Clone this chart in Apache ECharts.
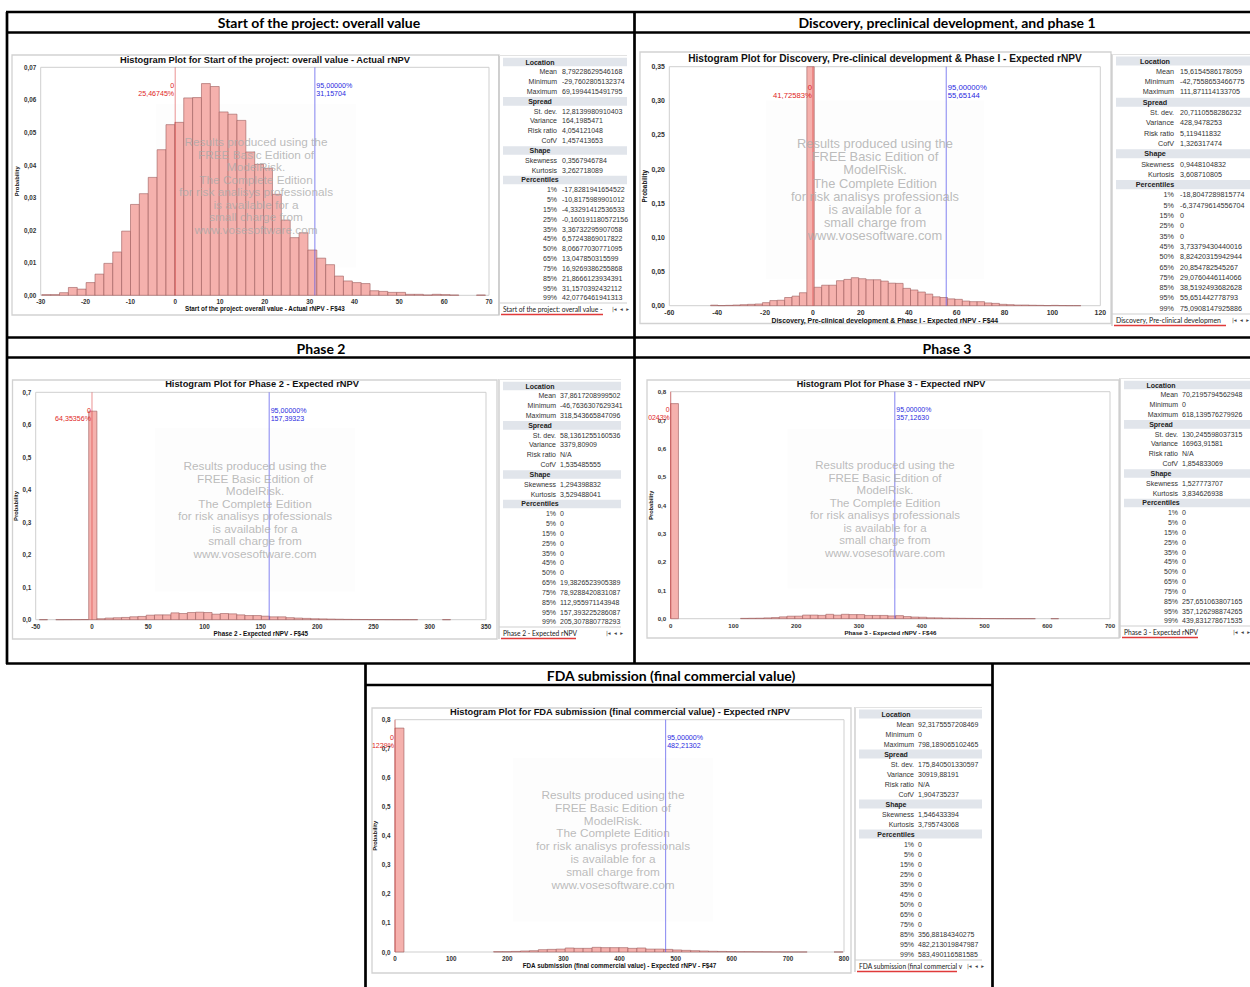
<!DOCTYPE html>
<html>
<head>
<meta charset="utf-8">
<script src="https://cdn.jsdelivr.net/npm/echarts@6/dist/echarts.min.js"></script>
<style>
html, body { margin: 0; padding: 0; background: #fff; }
#main { width: 1250px; height: 987px; }
</style>
</head>
<body>
<div id="main"></div>
<script>
// ---------- texts ----------
const headerTitles = [
  'Start of the project: overall value',
  'Discovery, preclinical development, and phase 1',
  'Phase 2',
  'Phase 3',
  'FDA submission (final commercial value)'
];
const chartTitles = [
  'Histogram Plot for Start of the project: overall value - Actual rNPV',
  'Histogram Plot for Discovery, Pre-clinical development & Phase I - Expected rNPV',
  'Histogram Plot for Phase 2 - Expected rNPV',
  'Histogram Plot for Phase 3 - Expected rNPV',
  'Histogram Plot for FDA submission (final commercial value) - Expected rNPV'
];
const xAxisNames = [
  'Start of the project: overall value - Actual rNPV - F$43',
  'Discovery, Pre-clinical development & Phase I - Expected rNPV - F$44',
  'Phase 2 - Expected rNPV - F$45',
  'Phase 3 - Expected rNPV - F$46',
  'FDA submission (final commercial value) - Expected rNPV - F$47'
];
const tabNames = [
  'Start of the project: overall value - ',
  'Discovery, Pre-clinical developmen',
  'Phase 2 - Expected rNPV',
  'Phase 3 - Expected rNPV',
  'FDA submission (final commercial v'
];
const watermarkLines = [
  'Results produced using the', 'FREE Basic Edition of', 'ModelRisk.',
  'The Complete Edition', 'for risk analisys professionals',
  'is available for a', 'small charge from', 'www.vosesoftware.com'
];

// ---------- axis scales: [min, max, interval] ----------
const xScales = [[-30, 70, 10], [-60, 120, 20], [-50, 350, 50], [0, 700, 100], [0, 800, 100]];
const yScales = [[0.07, 0.01, 2], [0.35, 0.05, 2], [0.7, 0.1, 1], [0.8, 0.1, 1], [0.8, 0.1, 1]];

// ---------- summary statistics: Mean, Minimum, Maximum, St. dev., Variance, Risk ratio, CofV, Skewness, Kurtosis ----------
const startStats = [8.79228629546168, -29.7602805132374, 69.1994415491795, 12.8139980910403, 164.1985471, 4.054121048, 1.457413653, 0.3567946784, 3.262718089];
const discoveryStats = [15.6154586178059, -42.7558653466775, 111.871114133705, 20.7110558286232, 428.9478253, 5.119411832, 1.326317474, 0.9448104832, 3.608710805];
const phase2Stats = [37.8617208999502, -46.7636307629341, 318.543665847096, 58.1361255160536, 3379.80909, null, 1.535485555, 1.294398832, 3.529488041];
const phase3Stats = [70.2195794562948, 0, 618.139576279926, 130.245598037315, 16963.91581, null, 1.854833069, 1.527773707, 3.834626938];
const fdaStats = [92.3175557208469, 0, 798.189065102465, 175.840501330597, 30919.88191, null, 1.904735237, 1.546433394, 3.795743068];

// ---------- percentiles ----------
const pctLabels = ['1%', '5%', '15%', '25%', '35%', '45%', '50%', '65%', '75%', '85%', '95%', '99%'];
const startPct = [-17.8281941654522, -10.8175989901012, -4.33291412536533, -0.160191180572156, 3.36732295907058, 6.57243869017822, 8.06677030771095, 13.047850315599, 16.9269386255868, 21.8666123934391, 31.1570392432112, 42.0776461941313];
const discoveryPct = [-18.8047289815774, -6.37479614556704, 0, 0, 0, 3.73379430440016, 8.82420315942944, 20.854782545267, 29.0760446114066, 38.5192493682628, 55.651442778793, 75.0908147925886];
const phase2Pct = [0, 0, 0, 0, 0, 0, 0, 19.3826523905389, 78.9288420831087, 112.955971143948, 157.393225286087, 205.307880778293];
const phase3Pct = [0, 0, 0, 0, 0, 0, 0, 0, 0, 257.651063807165, 357.126298874265, 439.831278671535];
const fdaPct = [0, 0, 0, 0, 0, 0, 0, 0, 0, 356.88184340275, 482.213019847987, 583.490116581585];

// ---------- histogram probabilities (50 equal bins from Minimum to Maximum) ----------
const startProb = [0.0002, 0.0002, 0.0008, 0.0024, 0.0019, 0.0039, 0.0065, 0.0098, 0.0133, 0.0197,
  0.0279, 0.0312, 0.0362, 0.0447, 0.0524, 0.0531, 0.0606, 0.0607, 0.0650, 0.0641,
  0.0563, 0.0556, 0.0537, 0.0440, 0.0402, 0.0390, 0.0310, 0.0231, 0.0177, 0.0192,
  0.0139, 0.0114, 0.0094, 0.0059, 0.0044, 0.0039, 0.0036, 0.0014, 0.0012, 0.0009,
  0.0009, 0.0003, 0.0003, 0.0001, 0.0003, 0.0002, 0.0001, 0, 0, 0.0001];
const discoveryProb = [0.0008, 0.0002, 0.0005, 0.0010, 0.0015, 0.0020, 0.0025, 0.0045, 0.0075, 0.0080,
  0.0120, 0.0140, 0.0190, 0.3520, 0.0270, 0.0300, 0.0300, 0.0366, 0.0385, 0.0410,
  0.0395, 0.0380, 0.0380, 0.0360, 0.0330, 0.0327, 0.0254, 0.0230, 0.0200, 0.0170,
  0.0130, 0.0120, 0.0100, 0.0093, 0.0068, 0.0059, 0.0059, 0.0040, 0.0034, 0.0020,
  0.0015, 0.0010, 0.0010, 0.0007, 0.0005, 0.0002, 0.0005, 0.0002, 0.0001, 0.0001];
const phase2Prob = [0.0001, 0, 0.0001, 0.0002, 0.0003, 0.0005, 0.6420, 0.0030, 0.0050, 0.0060,
  0.0070, 0.0090, 0.0100, 0.0139, 0.0149, 0.0149, 0.0211, 0.0190, 0.0221, 0.0231,
  0.0221, 0.0170, 0.0190, 0.0180, 0.0149, 0.0128, 0.0128, 0.0108, 0.0088, 0.0088,
  0.0062, 0.0050, 0.0040, 0.0030, 0.0025, 0.0020, 0.0015, 0.0010, 0.0008, 0.0006,
  0.0004, 0.0003, 0.0002, 0.0001, 0.0001, 0.0001, 0, 0, 0, 0.0001];
const phase3Prob = [0.7580, 0, 0, 0, 0, 0, 0, 0, 0, 0.0012,
  0.0015, 0.0018, 0.0028, 0.0040, 0.0065, 0.0088, 0.0090, 0.0128, 0.0128, 0.0118,
  0.0155, 0.0125, 0.0155, 0.0145, 0.0145, 0.0115, 0.0115, 0.0115, 0.0098, 0.0108,
  0.0075, 0.0058, 0.0052, 0.0032, 0.0030, 0.0022, 0.0018, 0.0014, 0.0011, 0.0009,
  0.0007, 0.0005, 0.0003, 0.0002, 0.0001, 0.0001, 0.0001, 0, 0, 0.0001];
const fdaProb = [0.7712, 0, 0, 0, 0, 0, 0, 0, 0, 0,
  0, 0.0010, 0.0010, 0.0020, 0.0035, 0.0045, 0.0080, 0.0090, 0.0100, 0.0138,
  0.0126, 0.0126, 0.0160, 0.0150, 0.0150, 0.0150, 0.0126, 0.0138, 0.0100, 0.0100,
  0.0090, 0.0070, 0.0057, 0.0045, 0.0035, 0.0025, 0.0020, 0.0015, 0.0010, 0.0010,
  0.0008, 0.0006, 0.0003, 0.0002, 0.0001, 0.0001, 0, 0, 0, 0.0001];

// ---------- marker annotations ----------
const zeroLabels = ['25,46745%', '41,72583%', '64,35356%', '0243%', '1229%'];
const confidenceLevel = 95;

const allStats = [startStats, discoveryStats, phase2Stats, phase3Stats, fdaStats];
const allPct = [startPct, discoveryPct, phase2Pct, phase3Pct, fdaPct];
const allProb = [startProb, discoveryProb, phase2Prob, phase3Prob, fdaProb];

// ---------- page layout ----------
const FONT = '"Liberation Sans", Arial, sans-serif';
const layout = [
  { grid: [40.7, 67.3, 448.3, 228], s: 1.0, title: [265, 60], frame: [12, 55, 499, 315], wm: [256, 142, 12.5], yGap: 22.4,
    tbl: { left: 499, right: 627, y0: 62, rowH: 9.83, labelR: 557, valueL: 562, headC: 540, tabY: 309, ulEnd: 603, navX: 612, fs: 1 } },
  { grid: [669.3, 66.7, 431, 239], s: 1.09, title: [885, 58.3], frame: [640, 52, 1111, 323.5], wm: [875, 143.7, 13.1], yGap: 23,
    tbl: { left: 1112, right: 1250, y0: 61, rowH: 10.3, labelR: 1174, valueL: 1180, headC: 1155, tabY: 320, ulEnd: 1226, navX: 1232, fs: 1.03 } },
  { grid: [35.7, 392.3, 450.3, 227.4], s: 1.0, title: [262, 384.3], frame: [12.5, 380, 497, 639], wm: [255, 466, 12.5], yGap: 18.4,
    tbl: { left: 499, right: 621, y0: 386, rowH: 9.83, labelR: 556, valueL: 560, headC: 540, tabY: 633, ulEnd: 576, navX: 606, fs: 1 } },
  { grid: [670.7, 391.7, 439.3, 227], s: 0.975, title: [891, 383.7], frame: [647, 380, 1119, 638], wm: [885, 465, 12.5], yGap: 18,
    tbl: { left: 1120, right: 1250, y0: 385, rowH: 9.83, labelR: 1178, valueL: 1182, headC: 1161, tabY: 632, ulEnd: 1198, navX: 1233, fs: 1 } },
  { grid: [395, 719.7, 449, 232.3], s: 1.0, title: [620, 711.7], frame: [372, 708, 851, 973], wm: [613, 795, 12.8], yGap: 18.3,
    tbl: { left: 855, right: 982, y0: 714, rowH: 10, labelR: 914, valueL: 918, headC: 896, tabY: 966, ulEnd: 957, navX: 967, fs: 1 } }
];
const headerPos = [[319, 22], [947, 22], [321, 348], [947, 348], [671, 675]];

const fmtNum = v => (v === null ? 'N/A' : String(v).replace('.', ','));

// ---------- series renderers ----------
function renderBar(params, api) {
  const p = api.value(2);
  if (!(p > 0)) return null;
  const a = api.coord([api.value(0), p]);
  const b = api.coord([api.value(1), 0]);
  const cs = params.coordSys;
  const top = Math.max(a[1], cs.y);
  return {
    type: 'rect',
    shape: { x: a[0], y: top, width: b[0] - a[0], height: b[1] - top },
    style: { fill: '#f5b1ad', stroke: '#9c5a5a', lineWidth: 0.6 }
  };
}

function makeMarker(i) {
  const s = layout[i].s;
  const p95 = allPct[i][10];
  return function (params, api) {
    const cs = params.coordSys;
    const x = api.coord([api.value(0), 0])[0];
    const isZero = params.dataIndex === 0;
    const texts = isZero
      ? [fmtNum(api.value(0)), zeroLabels[i]]
      : [confidenceLevel.toFixed(5).replace('.', ',') + '%', p95.toFixed(5).replace('.', ',')];
    const color = isZero ? '#e02626' : '#2a2ae0';
    const children = [{
      type: 'line',
      shape: { x1: x, y1: cs.y, x2: x, y2: cs.y + cs.height },
      style: { stroke: isZero ? 'rgba(215,40,40,0.5)' : 'rgba(80,80,235,0.7)', lineWidth: 1 }
    }];
    texts.forEach((t, j) => {
      children.push({
        type: 'text',
        x: isZero ? x - 1 : x + 1.5,
        y: cs.y + (18.7 + j * 7.9) * s,
        style: { text: t, fill: color, fontSize: 7.1 * s, fontFamily: FONT,
                 align: isZero ? 'right' : 'left', verticalAlign: 'middle' }
      });
    });
    return { type: 'group', children };
  };
}

// ---------- build option ----------
const grids = [], xAxes = [], yAxes = [], series = [], graphics = [];

layout.forEach((lay, i) => {
  const s = lay.s;
  const [gl, gt, gw, gh] = lay.grid;
  grids.push({ left: gl, top: gt, width: gw, height: gh, show: true, borderColor: '#cfcfcf', borderWidth: 1, backgroundColor: '#fff' });
  const [xmin, xmax, xint] = xScales[i];
  xAxes.push({
    type: 'value', gridIndex: i, min: xmin, max: xmax, interval: xint,
    axisLine: { show: false }, axisTick: { show: false }, splitLine: { show: false },
    axisLabel: { fontSize: 6.3 * s, fontWeight: 'bold', color: '#333', margin: 3.5, fontFamily: FONT, formatter: v => String(v) },
    name: xAxisNames[i], nameLocation: 'middle', nameGap: 9.5 * s,
    nameTextStyle: { fontSize: 6.3 * s, fontWeight: 'bold', color: '#111', fontFamily: FONT }
  });
  const [ymax, yint, dec] = yScales[i];
  yAxes.push({
    type: 'value', gridIndex: i, min: 0, max: ymax, interval: yint,
    axisLine: { show: false }, axisTick: { show: false }, splitLine: { show: false },
    axisLabel: { fontSize: 6.3 * s, fontWeight: 'bold', color: '#333', margin: 4.5, fontFamily: FONT,
                 formatter: v => v.toFixed(dec).replace('.', ',') },
    name: 'Probability', nameLocation: 'middle', nameGap: lay.yGap - 3,
    nameTextStyle: { fontSize: 5.8 * s, fontWeight: 'bold', color: '#111', fontFamily: FONT }
  });

  const stats = allStats[i];
  const probs = allProb[i];
  const lo = stats[1], hi = stats[2], w = (hi - lo) / probs.length;
  series.push({
    type: 'custom', xAxisIndex: i, yAxisIndex: i, silent: true, animation: false, z: 2,
    renderItem: renderBar, encode: { x: [0, 1], y: 2 },
    data: probs.map((p, k) => [lo + k * w, lo + (k + 1) * w, p])
  });
  series.push({
    type: 'custom', xAxisIndex: i, yAxisIndex: i, silent: true, animation: false, z: 4,
    renderItem: makeMarker(i), encode: { x: 0, y: 1 },
    data: [[0, 0], [allPct[i][10], 0]]
  });

  // chart image frame
  const [fx0, fy0, fx1, fy1] = lay.frame;
  graphics.push({ type: 'rect', z: 0, silent: true, shape: { x: fx0, y: fy0, width: fx1 - fx0, height: fy1 - fy0 },
    style: { fill: 'none', stroke: '#d2d2d2', lineWidth: 1.3 } });

  // chart title
  graphics.push({ type: 'text', z: 10, silent: true, x: lay.title[0], y: lay.title[1],
    style: { text: chartTitles[i], fontSize: 9.3 * s, fontWeight: 'bold', fontFamily: FONT, fill: '#111', align: 'center', verticalAlign: 'middle' } });

  // watermark
  const [wx, wy, wsp] = lay.wm;
  graphics.push({ type: 'rect', z: 1, silent: true,
    shape: { x: wx - 100 * s, y: wy + 3.5 * wsp - 82 * s, width: 200 * s, height: 164 * s },
    style: { fill: 'rgba(0,0,0,0.008)' } });
  watermarkLines.forEach((t, j) => {
    graphics.push({ type: 'text', z: 60, silent: true, x: wx, y: wy + j * wsp,
      style: { text: t, fontSize: 11.8 * s, fontFamily: FONT, fill: 'rgba(170,170,170,0.8)', align: 'center', verticalAlign: 'middle' } });
  });

  // statistics table
  const t = lay.tbl;
  const tfs = 7 * t.fs;
  graphics.push({ type: 'line', z: 3, silent: true, shape: { x1: t.left, y1: t.y0 - 7, x2: t.left, y2: t.tabY + 6 },
    style: { stroke: '#c4c4c4', lineWidth: 1.2 } });
  graphics.push({ type: 'line', z: 3, silent: true, shape: { x1: t.left, y1: t.y0 - 6.5, x2: t.right, y2: t.y0 - 6.5 },
    style: { stroke: '#e2e2e2', lineWidth: 1 } });
  const rows = [
    ['Location', -1], ['Mean', 0], ['Minimum', 1], ['Maximum', 2],
    ['Spread', -1], ['St. dev.', 3], ['Variance', 4], ['Risk ratio', 5], ['CofV', 6],
    ['Shape', -1], ['Skewness', 7], ['Kurtosis', 8], ['Percentiles', -1]
  ];
  pctLabels.forEach((lbl, k) => rows.push([lbl, 100 + k]));
  rows.forEach((row, r) => {
    const y = t.y0 + r * t.rowH;
    if (row[1] === -1) {
      graphics.push({ type: 'rect', z: 3, silent: true,
        shape: { x: t.left + 4, y: y - t.rowH / 2 + 0.6, width: t.right - t.left - 4, height: t.rowH - 1.2 },
        style: { fill: '#e1e5eb' } });
      graphics.push({ type: 'text', z: 4, silent: true, x: t.headC, y: y,
        style: { text: row[0], fontSize: tfs, fontWeight: 'bold', fontFamily: FONT, fill: '#222', align: 'center', verticalAlign: 'middle' } });
    } else {
      const val = row[1] >= 100 ? allPct[i][row[1] - 100] : stats[row[1]];
      graphics.push({ type: 'text', z: 4, silent: true, x: t.labelR, y: y,
        style: { text: row[0], fontSize: tfs, fontFamily: FONT, fill: '#333', align: 'right', verticalAlign: 'middle' } });
      graphics.push({ type: 'text', z: 4, silent: true, x: t.valueL, y: y,
        style: { text: fmtNum(val), fontSize: tfs, fontFamily: FONT, fill: '#333', align: 'left', verticalAlign: 'middle' } });
    }
  });
  // sheet tab strip
  graphics.push({ type: 'line', z: 3, silent: true, shape: { x1: t.left, y1: t.tabY - 6, x2: t.right, y2: t.tabY - 6 },
    style: { stroke: '#cfcfcf', lineWidth: 1 } });
  graphics.push({ type: 'text', z: 4, silent: true, x: t.left + 4, y: t.tabY,
    style: { text: tabNames[i], fontSize: 6.7 * t.fs, fontFamily: 'Lato, "Open Sans", sans-serif', fill: '#222', align: 'left', verticalAlign: 'middle' } });
  graphics.push({ type: 'line', z: 4, silent: true, shape: { x1: t.left + 2, y1: t.tabY + 5.5, x2: t.ulEnd, y2: t.tabY + 5.5 },
    style: { stroke: '#e03a3a', lineWidth: 1.6 } });
  graphics.push({ type: 'text', z: 4, silent: true, x: t.navX, y: t.tabY,
    style: { text: '|◂  ◂  ▸', fontSize: 5.5, fontFamily: '"DejaVu Sans", sans-serif', fill: '#444', align: 'left', verticalAlign: 'middle' } });
});

// panel borders and section headers
const borderLines = [
  [6, 12, 1250, 12], [6, 32.5, 1250, 32.5], [7, 12, 7, 664], [634.5, 12, 634.5, 664],
  [6, 337.5, 1250, 337.5], [6, 357.5, 1250, 357.5], [6, 663.5, 1250, 663.5],
  [365.5, 663, 365.5, 987], [992.5, 663, 992.5, 987], [365, 685, 993, 685]
];
borderLines.forEach(([x1, y1, x2, y2]) => {
  graphics.push({ type: 'line', z: 20, silent: true, shape: { x1, y1, x2, y2 }, style: { stroke: '#000', lineWidth: 2.7 } });
});
headerTitles.forEach((t, i) => {
  graphics.push({ type: 'text', z: 20, silent: true, x: headerPos[i][0], y: headerPos[i][1],
    style: { text: t, fontSize: 14, fontWeight: 'bold', fontFamily: 'Lato, "Open Sans", sans-serif', fill: '#000', align: 'center', verticalAlign: 'middle' } });
});

const chart = echarts.init(document.getElementById('main'), null, { renderer: 'svg', width: 1250, height: 987 });
chart.setOption({
  animation: false,
  backgroundColor: '#fff',
  grid: grids,
  xAxis: xAxes,
  yAxis: yAxes,
  series: series,
  graphic: { elements: graphics }
});
</script>
</body>
</html>
